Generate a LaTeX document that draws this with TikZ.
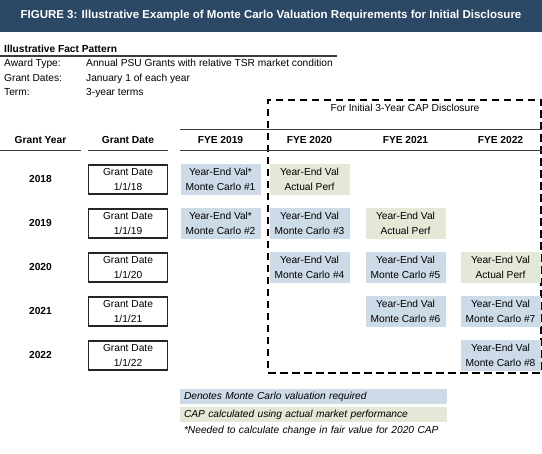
\documentclass[tikz,border=0pt]{standalone}
\usepackage{fontspec}
\setmainfont{Liberation Sans}
\definecolor{navy}{RGB}{44,72,103}
\definecolor{mcblue}{RGB}{205,218,232}
\definecolor{apgreen}{RGB}{227,232,215}
\definecolor{rule}{RGB}{60,60,60}
\tikzset{
  txt/.style={inner sep=0pt, font=\fontsize{10.2}{15}\selectfont, text height=7.2pt, text depth=2pt},
  hdr/.style={txt, font=\fontsize{10.2}{15}\selectfont\bfseries},
  cell/.style={minimum width=80pt, minimum height=31pt, inner sep=0pt, align=center, font=\fontsize{10.2}{15}\selectfont},
  mc/.style={cell, fill=mcblue},
  ap/.style={cell, fill=apgreen},
  gdbox/.style={cell, minimum width=79pt, minimum height=29pt, draw=black!85, line width=1.2pt, fill=white},
  hline/.style={draw=rule, line width=1pt},
  legend/.style={minimum width=267pt, minimum height=15pt, inner sep=0pt, inner xsep=4pt, text width=259pt, align=left, font=\fontsize{10.2}{12}\selectfont\itshape, text height=7.2pt, text depth=2pt},
}
\begin{document}
\begin{tikzpicture}[x=1pt,y=-1pt]
\useasboundingbox (0,0) rectangle (542,454);
% title
\node[fill=navy, minimum width=542pt, minimum height=32pt, inner sep=0pt, text=white, font=\fontsize{11.5}{12}\selectfont\bfseries] (title) at (271,16) {FIGURE 3: Illustrative Example of Monte Carlo Valuation Requirements for Initial Disclosure};
% fact pattern
\node[hdr, anchor=west] (fp) at (4,49.5) {Illustrative Fact Pattern};
\coordinate (fpl) at (0,56);
\coordinate (fpr) at (337,56);
\draw[draw=rule, line width=1.5pt] (fpl) -- (fpr);
\node[txt, anchor=west] (k1) at (4,64) {Award Type:};
\node[txt, anchor=west] (v1) at (86,64) {Annual PSU Grants with relative TSR market condition};
\node[txt, anchor=west] (k2) at (4,78.5) {Grant Dates:};
\node[txt, anchor=west] (v2) at (86,78.5) {January 1 of each year};
\node[txt, anchor=west] (k3) at (4,93) {Term:};
\node[txt, anchor=west] (v3) at (86,93) {3-year terms};
% dashed box
\node[draw=black, line width=2pt, dash pattern=on 7.5pt off 4.5pt, minimum width=273pt, minimum height=273pt, inner sep=0pt] (capbox) at (404.5,236.5) {};
\node[txt] (caplbl) at (405,109) {For Initial 3-Year CAP Disclosure};
% header lines
\coordinate (ta) at (180,130);
\coordinate (tb) at (542,130);
\draw[hline] (ta) -- (tb);
\coordinate (la) at (0,150.5);
\coordinate (lb) at (81,150.5);
\coordinate (lc) at (88,150.5);
\coordinate (ld) at (168,150.5);
\coordinate (le) at (180,150.5);
\coordinate (lf) at (542,150.5);
\draw[hline] (la) -- (lb);
\draw[hline] (lc) -- (ld);
\draw[hline] (le) -- (lf);
% headers
\node[hdr] (hgy) at (40.5,141) {Grant Year};
\node[hdr] (hgd) at (128,141) {Grant Date};
\node[hdr] (h19) at (220.5,141) {FYE 2019};
\node[hdr] (h20) at (309.5,141) {FYE 2020};
\node[hdr] (h21) at (405.5,141) {FYE 2021};
\node[hdr] (h22) at (500.5,141) {FYE 2022};
% year labels
\node[hdr] (y18) at (40.5,180) {2018};
\node[hdr] (y19) at (40.5,224) {2019};
\node[hdr] (y20) at (40.5,268) {2020};
\node[hdr] (y21) at (40.5,312) {2021};
\node[hdr] (y22) at (40.5,356) {2022};
% grant date boxes
\node[gdbox] (g18) at (128,179.5) {Grant Date\\1/1/18};
\node[gdbox] (g19) at (128,223.5) {Grant Date\\1/1/19};
\node[gdbox] (g20) at (128,267.5) {Grant Date\\1/1/20};
\node[gdbox] (g21) at (128,311.5) {Grant Date\\1/1/21};
\node[gdbox] (g22) at (128,355.5) {Grant Date\\1/1/22};
% cells
\node[mc] (c1) at (220.5,179.5) {Year-End Val*\\Monte Carlo \#1};
\node[ap] (a1) at (309.5,179.5) {Year-End Val\\Actual Perf};
\node[mc] (c2) at (220.5,223.5) {Year-End Val*\\Monte Carlo \#2};
\node[mc] (c3) at (309.5,223.5) {Year-End Val\\Monte Carlo \#3};
\node[ap] (a2) at (405.5,223.5) {Year-End Val\\Actual Perf};
\node[mc] (c4) at (309.5,267.5) {Year-End Val\\Monte Carlo \#4};
\node[mc] (c5) at (405.5,267.5) {Year-End Val\\Monte Carlo \#5};
\node[ap] (a3) at (500.5,267.5) {Year-End Val\\Actual Perf};
\node[mc] (c6) at (405.5,311.5) {Year-End Val\\Monte Carlo \#6};
\node[mc] (c7) at (500.5,311.5) {Year-End Val\\Monte Carlo \#7};
\node[mc] (c8) at (500.5,355.5) {Year-End Val\\Monte Carlo \#8};
% legend
\node[legend, fill=mcblue] (lg1) at (313.5,396.5) {Denotes Monte Carlo valuation required};
\node[legend, fill=apgreen] (lg2) at (313.5,414.5) {CAP calculated using actual market performance};
\node[legend] (lg3) at (313.5,431) {*Needed to calculate change in fair value for 2020 CAP};
\end{tikzpicture}
\end{document}
